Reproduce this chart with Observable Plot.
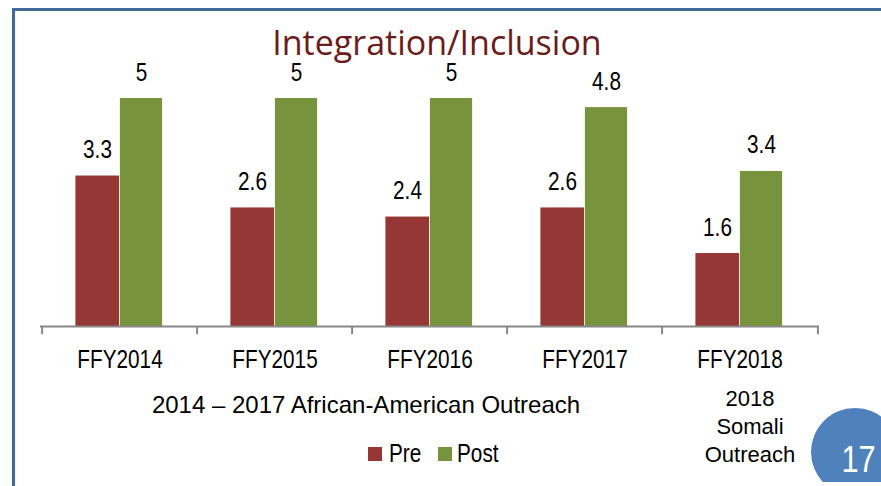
<!DOCTYPE html>
<html>
<head>
<meta charset="utf-8">
<script src="https://cdn.jsdelivr.net/npm/d3@7"></script>
<script src="https://cdn.jsdelivr.net/npm/@observablehq/plot@0.6"></script>
<style>
  html, body { margin: 0; padding: 0; background: #ffffff; }
  #page { position: relative; width: 881px; height: 486px; overflow: hidden; background: #ffffff; font-family: "Liberation Sans", Arial, sans-serif; }
  #chart { position: absolute; left: 0; top: 0; }
  .narrow { font-family: "Liberation Sans Narrow", "Arial Narrow", "Liberation Sans", sans-serif; transform: scaleX(0.83); transform-origin: left center; }
  .abs { position: absolute; white-space: nowrap; }
</style>
</head>
<body>
<div id="page">
  <div id="chart"></div>
  <div class="abs" style="left:12px; top:8px; width:3px; height:478px; background:#41699a;"></div>
  <div class="abs" style="left:12px; top:8px; width:869px; height:3px; background:#41699a;"></div>
  <div class="abs" id="title" style="left:0; width:874px; top:25px; text-align:center; font-size:34px; line-height:34px; color:#6b1c1c; font-family:'Open Sans', 'Liberation Sans', sans-serif;"></div>
  <div class="abs" id="groupA" style="left:66px; width:600px; top:393px; text-align:center; font-size:24px; line-height:24px; color:#000;"></div>
  <div class="abs" id="groupB" style="left:650px; width:200px; top:385px; text-align:center; font-size:22px; line-height:28px; color:#000; white-space:normal;"></div>
  <div class="abs" style="left:368px; top:447px; width:14px; height:14px; background:#953735;"></div>
  <div class="abs narrow" id="legPre" style="left:389px; top:441px; font-size:25px; line-height:25px; color:#000;"></div>
  <div class="abs" style="left:438px; top:447px; width:14px; height:14px; background:#77933c;"></div>
  <div class="abs narrow" id="legPost" style="left:457px; top:441px; font-size:25px; line-height:25px; color:#000;"></div>
  <div class="abs" style="left:800px; top:400px; width:81px; height:82px; overflow:hidden;">
    <div style="position:absolute; left:11px; top:8px; width:88px; height:88px; border-radius:50%; background:#4f81bd;"></div>
    <div id="pageNum" style="position:absolute; left:30px; width:57px; top:41px; text-align:center; font-size:37px; line-height:37px; color:#fff; transform: scaleX(0.83); transform-origin: center;"></div>
  </div>
</div>
<script>
const years = ["FFY2014", "FFY2015", "FFY2016", "FFY2017", "FFY2018"];
const preValues = [3.3, 2.6, 2.4, 2.6, 1.6];
const postValues = [5, 5, 5, 4.8, 3.4];
const seriesNames = ["Pre", "Post"];
const seriesColors = ["#953735", "#77933c"];
const titleText = "Integration/Inclusion";
const groupAText = "2014 \u2013 2017 African-American Outreach";
const groupBLines = ["2018", "Somali", "Outreach"];
const pageNumber = "17";

const preData = years.map((year, i) => ({year, value: preValues[i]}));
const postData = years.map((year, i) => ({year, value: postValues[i]}));

document.getElementById("title").textContent = titleText;
document.getElementById("groupA").textContent = groupAText;
document.getElementById("groupB").innerHTML = groupBLines.map(s => `<div>${s}</div>`).join("");
document.getElementById("legPre").textContent = seriesNames[0];
document.getElementById("legPost").textContent = seriesNames[1];
document.getElementById("pageNum").textContent = pageNumber;

const xLeft = 40, xRight = 819;
const bw = (xRight - xLeft) / years.length;
const half = bw / 2;
const barW = 44.5;

const chart = Plot.plot({
  width: 881,
  height: 486,
  marginLeft: xLeft,
  marginRight: 881 - xRight,
  style: {background: "transparent", fontFamily: "'Liberation Sans', Arial, sans-serif"},
  x: {type: "band", domain: years, range: [xLeft, xRight], padding: 0, axis: null},
  y: {domain: [0, 5], range: [326, 98], axis: null},
  marks: [
    Plot.barY(preData, {x: "year", y: "value", fill: seriesColors[0], insetLeft: half - barW, insetRight: half}),
    Plot.barY(postData, {x: "year", y: "value", fill: seriesColors[1], insetLeft: half, insetRight: half - barW + 1.5}),
    Plot.ruleY([0], {stroke: "#878787", strokeWidth: 2}),
    Plot.ruleX(years, {x: d => d, y1: 0, y2: -0.18, dx: -half, stroke: "#878787", strokeWidth: 2}),
    Plot.ruleX(years.slice(-1), {x: d => d, y1: 0, y2: -0.18, dx: half, stroke: "#878787", strokeWidth: 2}),
    Plot.text(preData, {x: "year", y: "value", text: d => String(d.value), dx: -22.5, dy: -26, fontSize: 25, fill: "#000"}),
    Plot.text(postData, {x: "year", y: "value", text: d => String(d.value), dx: 21.5, dy: -26, fontSize: 25, fill: "#000"}),
    Plot.text(years, {x: d => d, y: 0, text: d => d, dy: 33, fontSize: 25, fill: "#000"})
  ]
});
// condense the chart's labels (Arial Narrow look): scale each text about its own anchor
chart.querySelectorAll("text").forEach(t => {
  const tr = t.getAttribute("transform");
  if (tr) {
    t.setAttribute("transform", tr + " scale(0.83,1)");
  } else {
    const x = +(t.getAttribute("x") || 0), y = +(t.getAttribute("y") || 0);
    t.setAttribute("transform", `translate(${x},${y}) scale(0.83,1)`);
    t.setAttribute("x", 0); t.setAttribute("y", 0);
  }
});
document.getElementById("chart").appendChild(chart);
</script>
</body>
</html>
